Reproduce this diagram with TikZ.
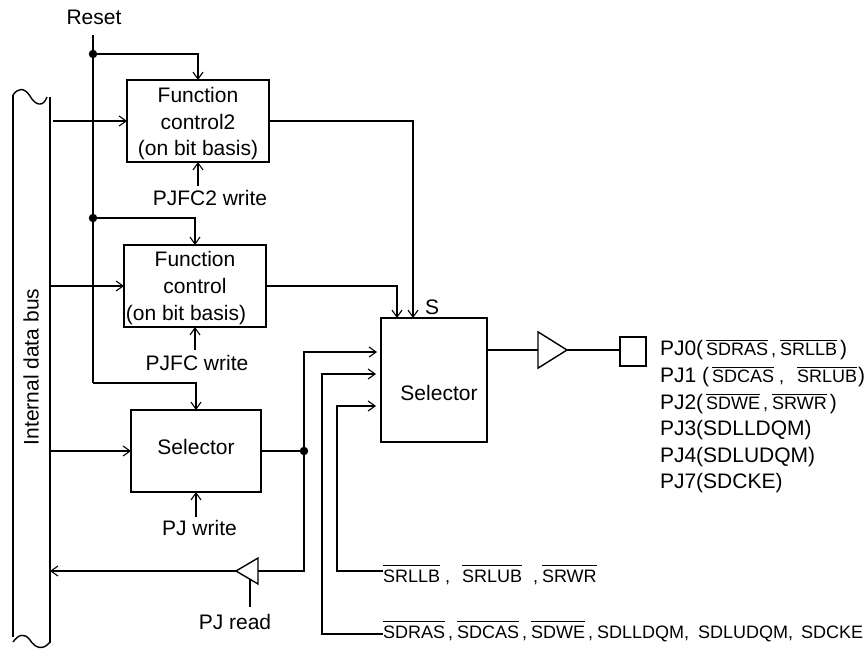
\documentclass[tikz,border=0pt]{standalone}
\usepackage{fontspec}
\setmainfont{Liberation Sans}
\usetikzlibrary{arrows.meta,shapes.geometric}
\newcommand{\ovl}[2][1.6]{\leavevmode\vbox{\hrule height .9pt \kern#1pt\hbox{\fontsize{18}{20}\selectfont #2}}}
\newcommand{\smalltxt}{\fontsize{18}{20}\selectfont}
\newcommand{\stacktxt}[4]{\raisebox{#1}[0pt][0pt]{\begin{tabular}{@{}c@{}}#2\\#3\\#4\end{tabular}}}
\tikzset{
  x=1pt,y=-1pt,
  every node/.style={font=\fontsize{21}{26.7}\selectfont,inner sep=0pt,outer sep=0pt},
  wire/.style={line width=1.4pt,line join=miter},
  arr/.style={wire,-{Straight Barb[length=7pt,width=10pt,line width=1.1pt]}},
  blockbox/.style={draw,line width=1.4pt,anchor=north west},
  dotn/.style={circle,fill=black,minimum size=8.5pt},
  lbl/.style={anchor=center},
  pin/.style={anchor=base west},
  buf/.style={draw,line width=1.4pt,isosceles triangle,inner sep=0pt,anchor=apex},
}
\begin{document}
\begin{tikzpicture}
\useasboundingbox (0,0) rectangle (868,649);
% bus
\draw[wire] (13,95) .. controls (18,88) and (24,87) .. (30,96) .. controls (35,105) and (43,108) .. (47,97);
\draw[wire] (13,95) -- (13,637);
\draw[wire] (50,97) -- (50,643);
\draw[wire] (13,642) .. controls (18,635) and (24,632) .. (30,640) .. controls (35,648) and (43,651) .. (50,642);
\node[rotate=90] (bus) at (31,367) {Internal data bus};
% blocks
\node[blockbox,minimum width=142pt,minimum height=82pt] (fc2) at (127,80) {\stacktxt{-8pt}{Function}{control2}{(on bit basis)}};
\node[blockbox,minimum width=142pt,minimum height=82pt] (fc) at (124,245) {\stacktxt{-7.5pt}{Function}{control}{\hspace*{-18pt}(on bit basis)}};
\node[blockbox,minimum width=130pt,minimum height=82pt] (sel) at (131,410) {\raisebox{-3.5pt}[0pt][0pt]{Selector}};
\node[blockbox,minimum width=106pt,minimum height=124pt] (bigsel) at (381,318) {\raisebox{-20.5pt}[0pt][0pt]{\hspace*{10pt}Selector}};
\node[lbl] (s) at (432,307) {S};
% reset
\node[lbl] (reset) at (94,17) {Reset};
\coordinate (r0) at (93,35);
\node[dotn] (j1) at (93,54) {};
\node[dotn] (j2) at (93,218) {};
\coordinate (r3) at (93,383);
\draw[wire] (r0) -- (r3);
\draw[arr] (j1.center) -| (fc2.north);
\draw[arr] (j2.center) -| (fc.north);
\draw[arr] (r3) -| (sel.north);
% bus inputs
\coordinate (b1) at (53,121);
\coordinate (b2) at (50,286);
\coordinate (b3) at (50,451);
\draw[arr] (b1) -- (fc2.west);
\draw[arr] (b2) -- (fc.west);
\draw[arr] (b3) -- (sel.west);
% write strobes
\node[lbl] (w2) at (210,198) {PJFC2 write};
\node[lbl] (w1) at (197,363) {PJFC write};
\node[lbl] (w0) at (199.5,528) {PJ write};
\coordinate (s2) at (198,186);
\coordinate (s1) at (195,350);
\coordinate (s0) at (196,517);
\draw[arr] (s2) -- (s2 |- fc2.south);
\draw[arr] (s1) -- (s1 |- fc.south);
\draw[arr] (s0) -- (s0 |- sel.south);
% outputs to big selector
\coordinate (in2) at (413,318);
\coordinate (in1) at (397,318);
\draw[arr] (fc2.east) -| (in2);
\draw[arr] (fc.east) -| (in1);
\node[dotn] (j3) at (304,451) {};
\coordinate (in3) at (377,352);
\coordinate (in4) at (376,374);
\coordinate (in5) at (376,406);
\draw[wire] (sel.east) -- (j3.center);
\draw[arr] (j3.center) |- (in3);
% read buffer
\node[buf,isosceles triangle apex angle=61,shape border rotate=180,minimum height=22pt] (rb) at (236,571) {};
\coordinate (t1) at (304,571);
\draw[wire] (j3.center) -- (t1) -- (rb.east);
\coordinate (b4) at (50,571);
\draw[arr] (rb.apex) -- (b4);
\node[lbl] (pjread) at (235,622) {PJ read};
\coordinate (rd0) at (250,579);
\coordinate (rd1) at (250,607);
\draw[wire] (rd0) -- (rd1);
% other inputs
\coordinate (c1) at (322,634);
\coordinate (c2) at (337,571);
\node[anchor=base west,font=\smalltxt] (l1) at (383,582) {\ovl[3.5]{SRLLB}\hspace{5pt},\hspace{12pt}\ovl[3.5]{SRLUB}\hspace{11pt},\hspace{4pt}\ovl[3.5]{SRWR}};
\node[anchor=base west,font=\smalltxt] (l2) at (383,638) {\ovl[3.5]{SDRAS}\hspace{3pt},\hspace{4pt}\ovl[3.5]{SDCAS}\hspace{3pt},\hspace{4pt}\ovl[3.5]{SDWE}\hspace{3pt},\hspace{4pt}SDLLDQM,\hspace{9pt}SDLUDQM,\hspace{8pt}SDCKE};
\draw[arr] (l2.west |- c1) -- (c1) |- (in4);
\draw[arr] (l1.west |- c2) -- (c2) |- (in5);
% output
\node[buf,isosceles triangle apex angle=64,minimum height=29pt] (ob) at (567,350) {};
\node[draw,line width=1.4pt,minimum width=26pt,minimum height=29pt] (pad) at (633,351.5) {};
\draw[wire] (bigsel.east |- ob.apex) -- (ob.west);
\draw[wire] (ob.apex) -- (ob.apex -| pad.west);
\node[pin] at (660,355) {PJ0(\hspace{3pt}\ovl{SDRAS}\hspace{3pt}{\smalltxt,}\hspace{4pt}\ovl{SRLLB}\hspace{3pt})};
\node[pin] at (660,382) {PJ1 (\hspace{3pt}\ovl{SDCAS}\hspace{5pt}{\smalltxt,}\hspace{13pt}\ovl{SRLUB}\hspace{1pt})};
\node[pin] at (660,409) {PJ2(\hspace{3pt}\ovl{SDWE}\hspace{3pt}{\smalltxt,}\hspace{4pt}\ovl{SRWR}\hspace{3pt})};
\node[pin] at (660,435) {PJ3(SDLLDQM)};
\node[pin] at (660,462) {PJ4(SDLUDQM)};
\node[pin] at (660,488) {PJ7(SDCKE)};
\end{tikzpicture}
\end{document}
